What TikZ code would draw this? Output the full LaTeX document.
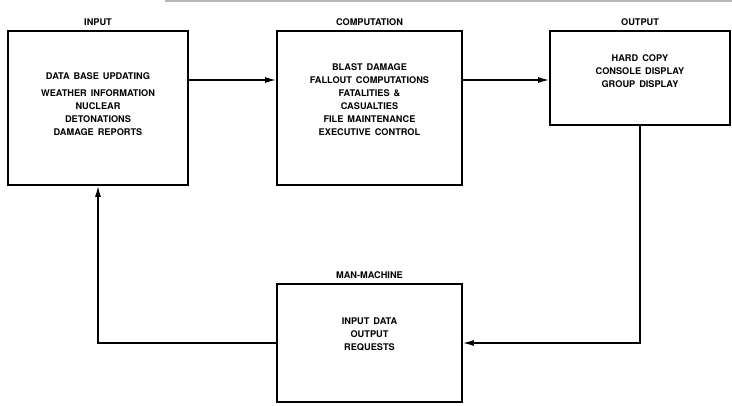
\documentclass[tikz,border=0pt]{standalone}
\usepackage{fontspec}
\setmainfont{TeX Gyre Heros}
\usetikzlibrary{positioning,arrows.meta}
\newcommand\widegap{\spaceskip=4pt plus 1pt\relax}

\begin{document}
\begin{tikzpicture}[
  x=1pt, y=-1pt,
  box/.style={rectangle, draw, line width=1.6pt, inner sep=0pt},
  txt/.style={align=center, font=\bfseries\fontsize{9.2}{13}\selectfont\widegap},
  head/.style={font=\bfseries\fontsize{9.2}{10}\selectfont, inner sep=1pt},
  arr/.style={-{Latex[length=11pt,width=6pt]}, line width=1.4pt}
]
  \useasboundingbox (0,0) rectangle (732,405);
  % scan edge
  \draw[gray!55, line width=1.2pt] (165,1) -- (732,1);

  % Boxes
  \node[box, minimum width=180pt, minimum height=154pt] (input) at (98,108) {};
  \node[box, minimum width=185pt, minimum height=154pt] (comp) at (369.5,108) {};
  \node[box, minimum width=180pt, minimum height=94pt] (out) at (640,78) {};
  \node[box, minimum width=185pt, minimum height=118pt] (mm) at (369.5,343) {};

  % Headings
  \node[head, above=3pt of input] (inputhead) {INPUT};
  \node[head, above=3pt of comp] (comphead) {COMPUTATION};
  \node[head, above=3pt of out] (outhead) {OUTPUT};
  \node[head, above=3pt of mm] (mmhead) {MAN-MACHINE};

  % Contents
  \node[txt] (inputtxt) at (98,104) {DATA BASE UPDATING\\[4pt]
    WEATHER INFORMATION\\ NUCLEAR\\ DETONATIONS\\ DAMAGE REPORTS};
  \node[txt] (comptxt) at (369.5,100) {BLAST DAMAGE\\ FALLOUT COMPUTATIONS\\
    FATALITIES \&\\ CASUALTIES\\ FILE MAINTENANCE\\ EXECUTIVE CONTROL};
  \node[txt] (outtxt) at (640,71) {HARD COPY\\ CONSOLE DISPLAY\\ GROUP DISPLAY};
  \node[txt] (mmtxt) at (369.5,334) {INPUT DATA\\ OUTPUT\\ REQUESTS};

  % Flow
  \draw[arr] ([yshift=28pt]input.east) -- ([yshift=28pt]comp.west);
  \draw[arr] ([yshift=28pt]comp.east) -- ([yshift=28pt]comp.east -| out.west);
  \draw[arr] (out.south) |- (mm.east);
  \draw[arr] (mm.west) -| (input.south);
\end{tikzpicture}
\end{document}
